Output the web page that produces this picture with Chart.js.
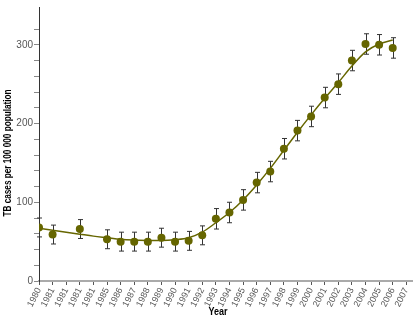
<!DOCTYPE html>
<html>
<head>
<meta charset="utf-8">
<script src="https://cdn.jsdelivr.net/npm/chart.js@4"></script>
<style>
    html, body { margin: 0; padding: 0; background: #ffffff; }
    #wrap { width: 417px; height: 317px; }
</style>
</head>
<body>
<div id="wrap"><canvas id="tb-chart"></canvas></div>
<script>
const yearLabels = ['1980', '1981', '1981', '1981', '1981', '1985', '1986', '1987', '1988', '1989',
    '1990', '1991', '1992', '1993', '1994', '1995', '1996', '1997', '1998', '1999',
    '2000', '2001', '2002', '2003', '2004', '2005', '2006', '2007'];
const tbRate = [68, 59, null, 66, null, 53, 50, 50, 50, 55, 50, 51, 58, 79, 87, 103, 125, 139, 168, 191,
    209, 233, 250, 280, 301, 300, 296, null];
const tbError = [12, 12, null, 12, null, 12, 12, 12, 12, 12, 12, 12, 12, 13, 13, 13, 13, 13, 13, 13,
    13, 13, 13, 13, 13, 13, 13, null];
const trendLine = [67, 64.5, 62, 59.5, 57, 55, 53, 52, 51.5, 51.5, 52.5, 55, 62, 74, 87, 103, 122, 143,
    166, 189, 211, 232, 252, 273, 291, 301, 306];

const FONT = "'Liberation Sans', Arial, sans-serif";
const OLIVE = '#666600';

const pointData = tbRate.map((v, i) => ({x: i, y: v}));
const lineData = trendLine.map((v, i) => ({x: i, y: v}));

const errorBars = {
    id: 'errorBars',
    beforeDatasetsDraw(chart) {
        const ctx = chart.ctx;
        const xs = chart.scales.x;
        const ys = chart.scales.y;
        ctx.save();
        ctx.strokeStyle = '#333333';
        ctx.lineWidth = 1;
        tbRate.forEach((v, i) => {
            if (v === null) return;
            const px = Math.round(xs.getPixelForValue(i)) + 0.5;
            const top = ys.getPixelForValue(v + tbError[i]);
            const bot = ys.getPixelForValue(v - tbError[i]);
            ctx.beginPath();
            ctx.moveTo(px, top);
            ctx.lineTo(px, bot);
            ctx.moveTo(px - 2.5, top);
            ctx.lineTo(px + 2.5, top);
            ctx.moveTo(px - 2.5, bot);
            ctx.lineTo(px + 2.5, bot);
            ctx.stroke();
        });
        ctx.restore();
    }
};

// axis titles drawn by hand, squeezed to look like the condensed original
const axisTitles = {
    id: 'axisTitles',
    afterDraw(chart) {
        const ctx = chart.ctx;
        ctx.save();
        ctx.fillStyle = '#000000';
        ctx.font = "bold 10px " + FONT;
        ctx.textAlign = 'center';
        ctx.textBaseline = 'middle';
        ctx.translate(8, 153);
        ctx.rotate(-Math.PI / 2);
        ctx.scale(0.82, 1);
        ctx.fillText('TB cases per 100 000 population', 0, 0);
        ctx.restore();

        ctx.save();
        ctx.fillStyle = '#000000';
        ctx.font = "bold 11px " + FONT;
        ctx.textAlign = 'center';
        ctx.textBaseline = 'middle';
        ctx.translate(218, 312);
        ctx.scale(0.82, 1);
        ctx.fillText('Year', 0, 0);
        ctx.restore();
    }
};

new Chart('tb-chart', {
    type: 'scatter',
    data: {
        datasets: [
            {
                data: lineData,
                showLine: true,
                borderColor: OLIVE,
                borderWidth: 1.5,
                pointRadius: 0,
                cubicInterpolationMode: 'monotone'
            },
            {
                data: pointData,
                showLine: false,
                backgroundColor: OLIVE,
                borderColor: OLIVE,
                borderWidth: 0,
                pointRadius: 4
            }
        ]
    },
    options: {
        responsive: true,
        maintainAspectRatio: false,
        animation: false,
        layout: {padding: {top: 2, right: 0, bottom: 0, left: 0}},
        plugins: {
            legend: {display: false},
            tooltip: {enabled: false}
        },
        scales: {
            x: {
                type: 'linear',
                min: 0,
                max: 27.44,
                afterBuildTicks(scale) {
                    scale.ticks = yearLabels.map((_, i) => ({value: i}));
                },
                afterFit(scale) {
                    scale.height = 36;
                },
                ticks: {
                    stepSize: 1,
                    autoSkip: false,
                    minRotation: 63,
                    maxRotation: 63,
                    padding: 1,
                    color: '#555555',
                    font: {family: FONT, size: 9},
                    callback: v => yearLabels[v]
                },
                grid: {
                    display: true,
                    drawOnChartArea: false,
                    drawTicks: true,
                    tickLength: 4,
                    color: '#555555'
                },
                border: {display: true, color: '#aaaaaa', width: 2}
            },
            y: {
                min: 0,
                max: 348,
                afterBuildTicks(scale) {
                    scale.ticks = scale.ticks.filter(t => t.value % 20 === 0);
                },
                afterFit(scale) {
                    scale.width = 39;
                },
                ticks: {
                    stepSize: 20,
                    padding: 1,
                    color: '#555555',
                    font: {family: FONT, size: 10},
                    callback: v => (v % 100 === 0 ? v : '')
                },
                grid: {
                    display: true,
                    drawOnChartArea: false,
                    drawTicks: true,
                    tickLength: 5,
                    color: '#888888'
                },
                border: {display: true, color: '#333333', width: 1}
            }
        }
    },
    plugins: [errorBars, axisTitles]
});
</script>
</body>
</html>
